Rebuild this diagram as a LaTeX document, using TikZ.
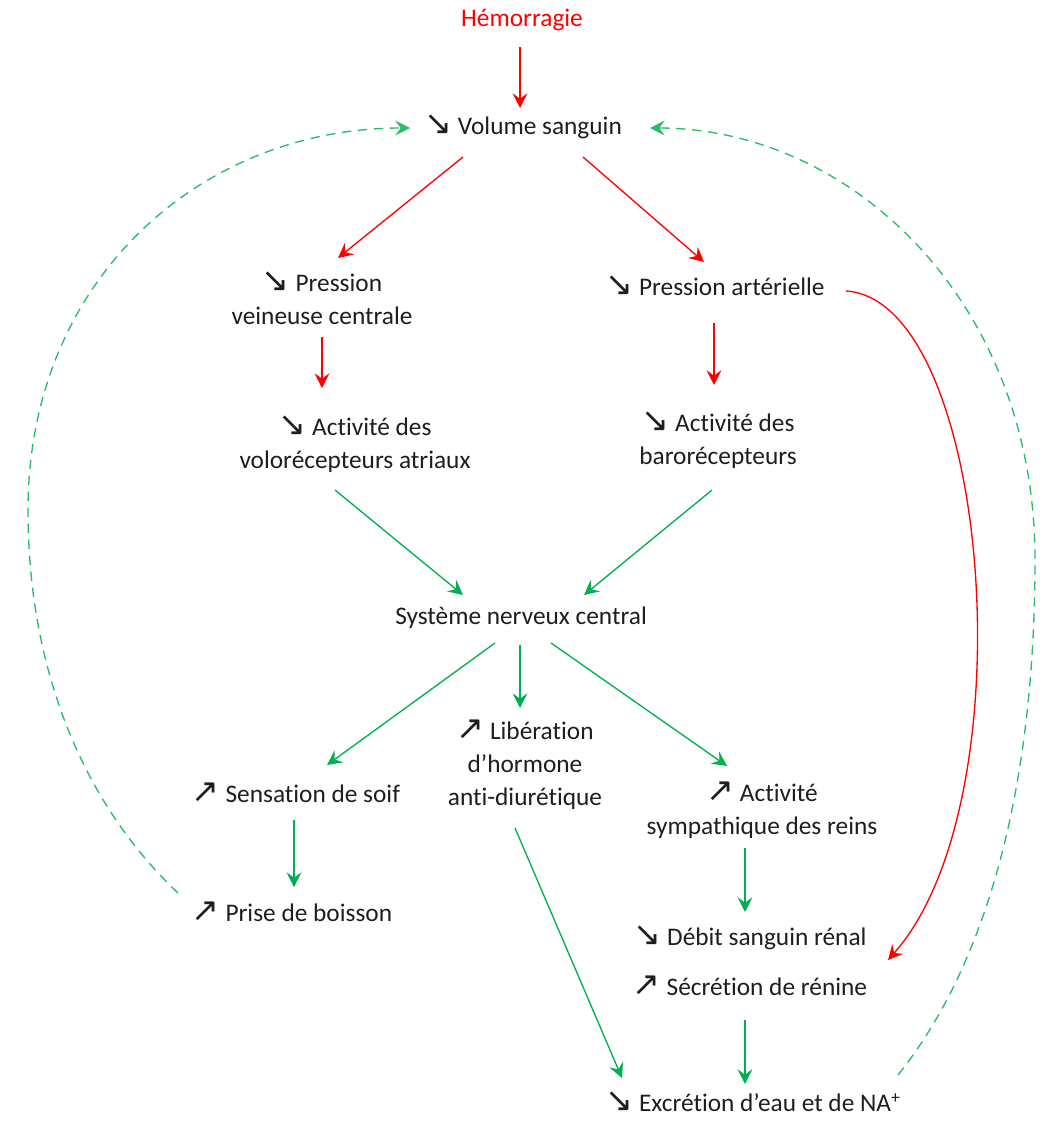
\documentclass[tikz,border=0pt]{standalone}
\usepackage{fontspec}
\setmainfont{Carlito}[Ligatures=NoCommon]
\newfontfamily\symfont{DejaVu Sans}
\usetikzlibrary{arrows.meta,calc}
\definecolor{cred}{RGB}{255,0,0}
\definecolor{cgreen}{RGB}{0,176,80}
\definecolor{ctext}{RGB}{30,30,30}
\newcommand{\arrdn}{{\symfont\fontsize{25}{25}\selectfont\char"2198}}
\newcommand{\arrup}{{\symfont\fontsize{25}{25}\selectfont\char"2197}}
\begin{document}
\begin{tikzpicture}[x=0.75pt,y=-0.75pt,
  lbl/.style={font=\fontsize{19}{24.75}\selectfont, align=center, inner sep=0pt, text=ctext},
  tip/.style={-{Stealth[length=11pt,width=11pt,inset=4pt]}},
  rarr/.style={draw=cred, line width=1pt, tip},
  garr/.style={draw=cgreen, line width=1pt, tip},
  gdash/.style={draw=cgreen!85, line width=1pt, dash pattern=on 7pt off 5pt, tip},
]
\useasboundingbox (0,0) rectangle (1039,1121);

% labels
\node[lbl, text=cred] (hem) at (522,20) {Hémorragie};
\node[lbl] (vol) at (523,127) {\arrdn\ Volume sanguin};
\node[lbl] (pvc) at (322,298) {\arrdn\ Pression\\veineuse centrale};
\node[lbl] (pa) at (715,286) {\arrdn\ Pression artérielle};
\node[lbl] (avol) at (355,444) {\arrdn\ Activité des\\volorécepteurs atriaux};
\node[lbl] (baro) at (718,440) {\arrdn\ Activité des\\barorécepteurs};
\node[lbl] (snc) at (521,618) {Système nerveux central};
\node[lbl] (soif) at (296,793) {\arrup\ Sensation de soif};
\node[lbl] (adh) at (525,765) {\arrup\ Libération\\d’hormone\\anti-diurétique};
\node[lbl] (symp) at (762,810) {\arrup\ Activité\\sympathique des reins};
\node[lbl] (prise) at (292,912) {\arrup\ Prise de boisson};
\node[lbl] (debit) at (750,938) {\arrdn\ Débit sanguin rénal};
\node[lbl] (renine) at (750,986) {\arrup\ Sécrétion de rénine};
\node[lbl] (excr) at (753,1102) {\arrdn\ Excrétion d’eau et de NA\textsuperscript{+}};

% red connectors
\draw[rarr] ($(hem)+(-2,27)$) -- ($(vol)+(-3,-19)$);
\draw[rarr] ($(vol)+(-60,30)$) -- ($(pvc)+(16,-40)$);
\draw[rarr] ($(vol)+(60,30)$) -- ($(pa)+(-11,-24)$);
\draw[rarr] ($(pvc)+(0,39)$) -- ($(avol)+(-33,-56)$);
\draw[rarr] ($(pa)+(-1,37)$) -- ($(baro)+(-4,-55)$);
\draw[rarr] ($(pa)+(131,5)$) .. controls (990,300) and (1030,800) .. ($(debit)+(138,22)$);

% green connectors
\draw[garr] ($(avol)+(-20,46)$) -- ($(snc)+(-58,-23)$);
\draw[garr] ($(baro)+(-6,50)$) -- ($(snc)+(63,-23)$);
\draw[garr] ($(snc)+(-26,25)$) -- ($(soif)+(31,-28)$);
\draw[garr] ($(snc)+(-1,27)$) -- ($(adh)+(-5,-57)$);
\draw[garr] ($(snc)+(30,25)$) -- ($(symp)+(-35,-44)$);
\draw[garr] ($(soif)+(-2,27)$) -- ($(prise)+(2,-25)$);
\draw[garr] ($(adh)+(-10,63)$) -- ($(excr)+(-131,-24)$);
\draw[garr] ($(symp)+(-17,38)$) -- ($(debit)+(-5,-26)$);
\draw[garr] ($(renine)+(-5,34)$) -- ($(excr)+(-8,-18)$);

% dashed feedback loops
\draw[gdash] ($(prise)+(-114,-19)$) .. controls (90,810) and (28,680) .. (28,510)
  .. controls (28,280) and (200,128) .. ($(vol)+(-113,1)$);
\draw[gdash] ($(excr)+(145,-27)$) .. controls (990,960) and (1035,780) .. (1035,560)
  .. controls (1035,300) and (850,128) .. ($(vol)+(127,1)$);
\end{tikzpicture}
\end{document}
